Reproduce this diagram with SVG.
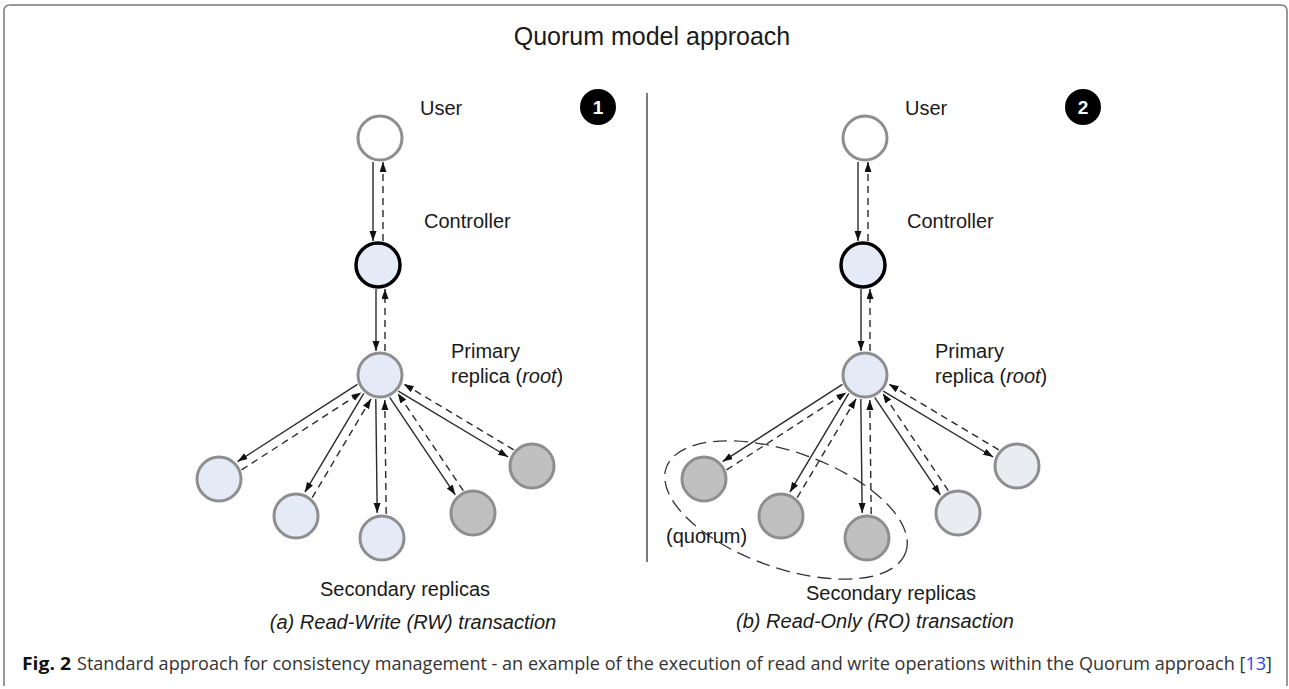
<svg xmlns="http://www.w3.org/2000/svg" width="1289" height="689" viewBox="0 0 1289 689">
<defs>
<marker id="ah" markerUnits="userSpaceOnUse" markerWidth="11" markerHeight="8" refX="10" refY="3.5" orient="auto"><path d="M0,0 L10,3.5 L0,7 z" fill="#111"/></marker>
<style>
.t{font-family:"Liberation Sans",Arial,sans-serif;font-size:20px;fill:#1a1a1a}
.it{font-style:italic}
.sol{stroke:#2a2a2a;stroke-width:1.4;fill:none;marker-end:url(#ah)}
.das{stroke:#2a2a2a;stroke-width:1.4;fill:none;stroke-dasharray:7 5;marker-end:url(#ah)}
.blue{fill:#e4ebf7;stroke:#8e8e8e;stroke-width:3}
.gray{fill:#c0c0c0;stroke:#8e8e8e;stroke-width:3}
.lite{fill:#e9edf2;stroke:#8e8e8e;stroke-width:3}
.white{fill:#ffffff;stroke:#8e8e8e;stroke-width:3}
.ctrl{fill:#e4ebf7;stroke:#000;stroke-width:3.5}
</style>
</defs>
<rect width="1289" height="689" fill="#fff"/>
<path d="M4,686 L4,11 Q4,5 10,5 L1281,5 Q1287,5 1287,11 L1287,686" fill="none" stroke="#7a7a7a" stroke-width="1.5"/>
<text class="t" x="652" y="45" text-anchor="middle" style="font-size:25px">Quorum model approach</text>
<line x1="647" y1="93" x2="647" y2="562" stroke="#333" stroke-width="1.3"/>

<g id="badge1"><circle cx="598" cy="107" r="18" fill="#000"/><text x="598" y="114" text-anchor="middle" style="font-family:'Liberation Sans',Arial,sans-serif;font-weight:bold;font-size:19px;fill:#fff">1</text></g>
<g id="badge2"><circle cx="1083" cy="107" r="18" fill="#000"/><text x="1083" y="114" text-anchor="middle" style="font-family:'Liberation Sans',Arial,sans-serif;font-weight:bold;font-size:19px;fill:#fff">2</text></g>

<g id="connectors">
<g id="conn-left">
<line class="sol" x1="373" y1="162" x2="373" y2="241"/>
<line class="das" x1="383" y1="241" x2="383" y2="162"/>
<line class="sol" x1="376" y1="289" x2="376" y2="351"/>
<line class="das" x1="385" y1="351" x2="385" y2="289"/>
<line class="sol" x1="357.4" y1="384.3" x2="237.6" y2="461.6"/>
<line class="das" x1="241.6" y1="469.8" x2="361.4" y2="392.4"/>
<line class="sol" x1="363.8" y1="393.3" x2="304.9" y2="492.2"/>
<line class="das" x1="312.2" y1="497.7" x2="371.1" y2="398.8"/>
<line class="sol" x1="375.8" y1="399" x2="377.2" y2="513"/>
<line class="das" x1="386.2" y1="514" x2="384.8" y2="400"/>
<line class="sol" x1="389.7" y1="397.4" x2="455.3" y2="494.8"/>
<line class="das" x1="463.3" y1="490.6" x2="397.7" y2="393.2"/>
<line class="sol" x1="398.3" y1="391.2" x2="508.2" y2="457"/>
<line class="das" x1="513.7" y1="449.8" x2="403.8" y2="384"/>
</g>
<g id="conn-right" transform="translate(485,0)">
<line class="sol" x1="373" y1="162" x2="373" y2="241"/>
<line class="das" x1="383" y1="241" x2="383" y2="162"/>
<line class="sol" x1="376" y1="289" x2="376" y2="351"/>
<line class="das" x1="385" y1="351" x2="385" y2="289"/>
<line class="sol" x1="357.4" y1="384.3" x2="237.6" y2="461.6"/>
<line class="das" x1="241.6" y1="469.8" x2="361.4" y2="392.4"/>
<line class="sol" x1="363.8" y1="393.3" x2="304.9" y2="492.2"/>
<line class="das" x1="312.2" y1="497.7" x2="371.1" y2="398.8"/>
<line class="sol" x1="375.8" y1="399" x2="377.2" y2="513"/>
<line class="das" x1="386.2" y1="514" x2="384.8" y2="400"/>
<line class="sol" x1="389.7" y1="397.4" x2="455.3" y2="494.8"/>
<line class="das" x1="463.3" y1="490.6" x2="397.7" y2="393.2"/>
<line class="sol" x1="398.3" y1="391.2" x2="508.2" y2="457"/>
<line class="das" x1="513.7" y1="449.8" x2="403.8" y2="384"/>
</g>
</g>

<g id="user-a"><circle class="white" cx="380" cy="138" r="22"/><text class="t" x="420" y="115">User</text></g>
<g id="controller-a"><circle class="ctrl" cx="378" cy="265" r="22"/><text class="t" x="424" y="228">Controller</text></g>
<g id="primary-a"><circle class="blue" cx="380" cy="375" r="22"/><text class="t" x="451" y="358">Primary</text><text class="t" x="451" y="383">replica (<tspan class="it">root</tspan>)</text></g>
<g id="sec-a1"><circle class="blue" cx="219" cy="479" r="22"/></g>
<g id="sec-a2"><circle class="blue" cx="296" cy="516" r="22"/></g>
<g id="sec-a3"><circle class="blue" cx="382" cy="538" r="22"/></g>
<g id="sec-a4"><circle class="gray" cx="473" cy="513" r="22"/></g>
<g id="sec-a5"><circle class="gray" cx="532" cy="466" r="22"/></g>
<text class="t" x="405" y="596" text-anchor="middle">Secondary replicas</text>
<text class="t it" x="413" y="629" text-anchor="middle">(a) Read-Write (RW) transaction</text>

<g id="quorum"><ellipse cx="786" cy="510" rx="127" ry="58" transform="rotate(19.5 786 510)" fill="none" stroke="#333" stroke-width="1.3" stroke-dasharray="14 7"/><text class="t" x="666" y="543">(quorum)</text></g>
<g id="user-b"><circle class="white" cx="865" cy="138" r="22"/><text class="t" x="905" y="115">User</text></g>
<g id="controller-b"><circle class="ctrl" cx="863" cy="265" r="22"/><text class="t" x="907" y="228">Controller</text></g>
<g id="primary-b"><circle class="blue" cx="865" cy="375" r="22"/><text class="t" x="935" y="358">Primary</text><text class="t" x="935" y="383">replica (<tspan class="it">root</tspan>)</text></g>
<g id="sec-b1"><circle class="gray" cx="704" cy="479" r="22"/></g>
<g id="sec-b2"><circle class="gray" cx="781" cy="516" r="22"/></g>
<g id="sec-b3"><circle class="gray" cx="867" cy="538" r="22"/></g>
<g id="sec-b4"><circle class="lite" cx="958" cy="513" r="22"/></g>
<g id="sec-b5"><circle class="lite" cx="1017" cy="466" r="22"/></g>
<text class="t" x="891" y="600" text-anchor="middle">Secondary replicas</text>
<text class="t it" x="875" y="628" text-anchor="middle">(b) Read-Only (RO) transaction</text>

<g id="caption" style="font-family:'Open Sans','Liberation Sans',sans-serif;font-size:18px">
<text x="22" y="670" textLength="49" lengthAdjust="spacingAndGlyphs" style="font-weight:bold;fill:#111">Fig. 2</text>
<text x="77" y="670" textLength="1195" lengthAdjust="spacingAndGlyphs" style="fill:#333">Standard approach for consistency management - an example of the execution of read and write operations within the Quorum approach [<tspan fill="#3344ee">13</tspan>]</text>
</g>
</svg>
